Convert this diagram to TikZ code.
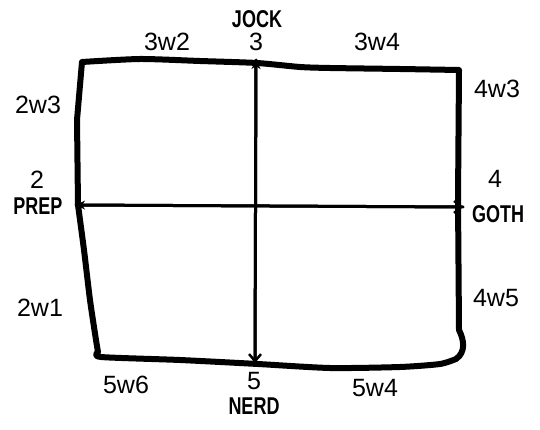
\documentclass[tikz,border=0pt]{standalone}
\usepackage{fontspec}
\setmainfont{Liberation Sans}
\usetikzlibrary{arrows.meta}
\tikzset{
  num/.style={inner sep=0pt, font=\fontsize{25}{28}\selectfont},
  tag/.style={inner sep=0pt, font=\fontsize{18}{20}\selectfont\bfseries},
  outline/.style={line width=6pt, line join=round, line cap=round},
  axis/.style={line width=3pt, line cap=round},
}
\newcommand{\tall}[1]{\scalebox{1}[1.35]{#1}}
\begin{document}
\begin{tikzpicture}[x=1pt,y=-1pt]
\useasboundingbox[fill=white] (0,0) rectangle (540,430);
% outline
\draw[outline] plot[smooth, tension=0.4] coordinates {(98,352) (101,357) (180,360) (258,364) (330,368) (400,367) (440,364) (456,359)}
  .. controls (466,352) and (464,340) .. (459,330)
  -- (458,200) -- (459,70)
  plot[smooth, tension=0.4] coordinates {(459,70) (400,69) (330,68) (300,67) (257,63) (200,61) (140,59) (82,62)}
  -- (77,120) -- (78,205)
  plot[smooth, tension=0.4] coordinates {(78,205) (84,250) (90,300) (96,340) (98,352)};
% axis end points
\coordinate (jock) at (256,60);
\coordinate (nerd) at (255,363);
\coordinate (prep) at (76,205);
\coordinate (goth) at (463,207);
\draw[axis, -{Stealth[length=9pt,width=9pt]}] (nerd) -- (jock);
\draw[axis, -{Straight Barb[length=7pt,width=12pt,line width=2.5pt]}] (jock) -- (nerd);
\draw[axis, -{Stealth[length=9pt,width=9pt]}] (goth) -- (prep);
\draw[axis, -{Straight Barb[length=7pt,width=12pt,line width=2.5pt]}] (prep) -- (goth);
% labels
\node[num] (l3w2) at (167,42) {3w2};
\node[num] (l3) at (256,42) {3};
\node[tag] (ljock) at (257,19) {\tall{JOCK}};
\node[num] (l3w4) at (377,42) {3w4};
\node[num] (l2w3) at (38,105) {2w3};
\node[num] (l4w3) at (497,89) {4w3};
\node[num] (l2) at (37,180) {2};
\node[tag] (lprep) at (38,206) {\tall{PREP}};
\node[num] (l4) at (495,179) {4};
\node[tag] (lgoth) at (498,214) {\tall{GOTH}};
\node[num] (l2w1) at (40,308) {2w1};
\node[num] (l4w5) at (496,298) {4w5};
\node[num] (l5w6) at (126,385) {5w6};
\node[num] (l5) at (254,381) {5};
\node[tag] (lnerd) at (254,406) {\tall{NERD}};
\node[num] (l5w4) at (375,388) {5w4};
\end{tikzpicture}
\end{document}
